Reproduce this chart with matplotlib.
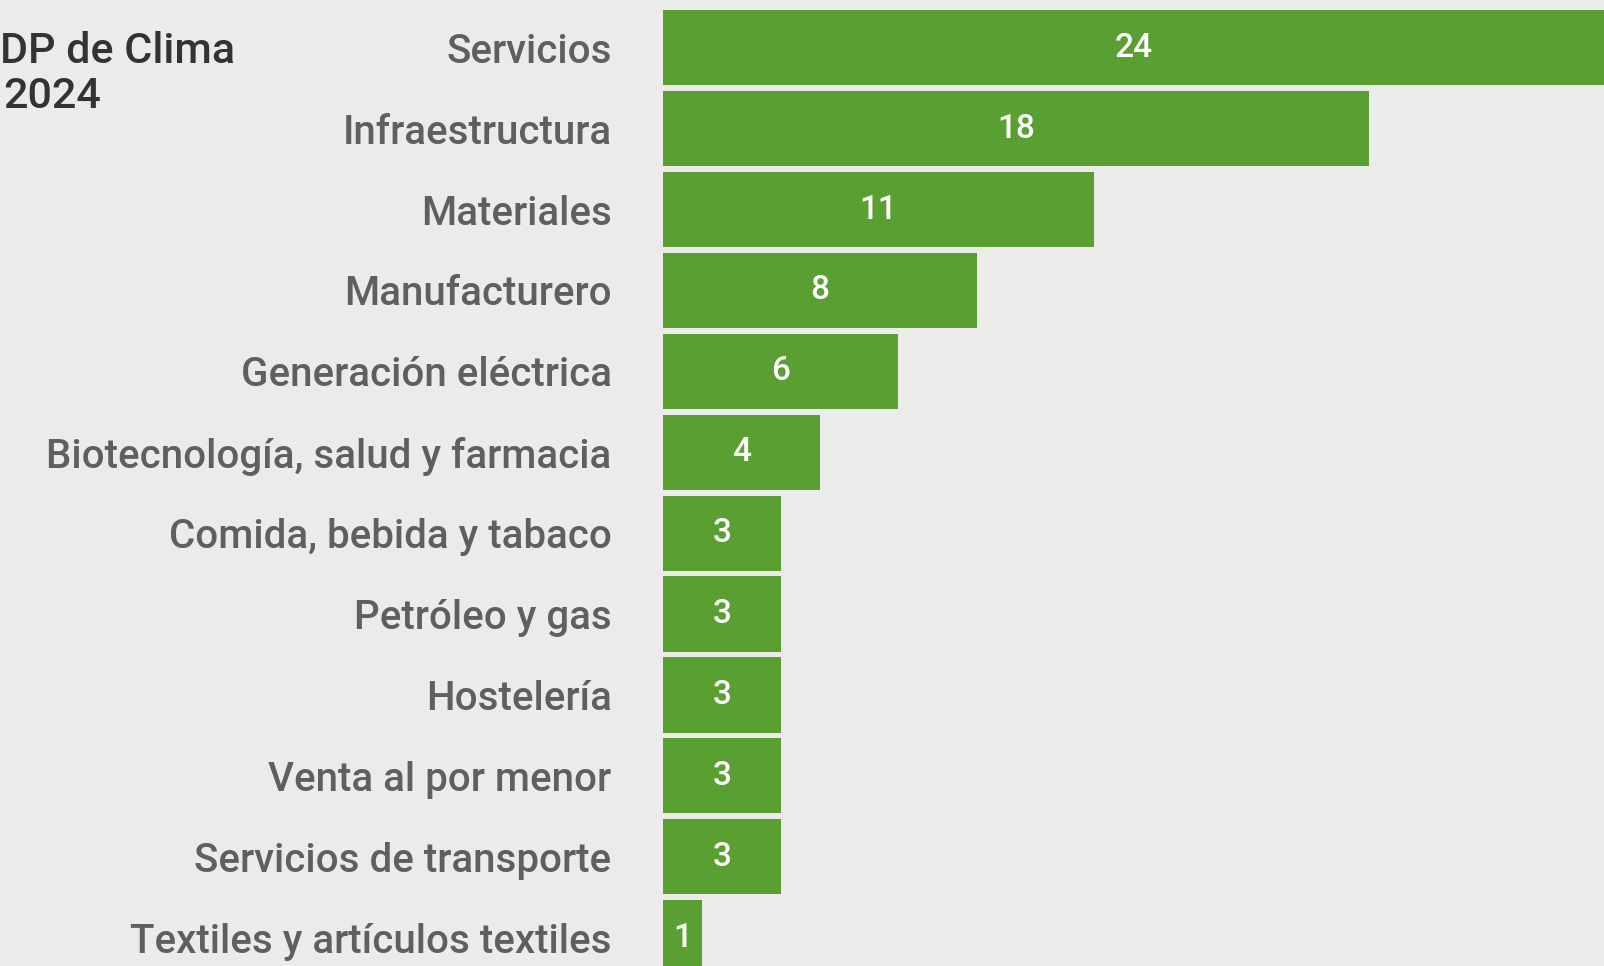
import matplotlib.pyplot as plt

# Data
sectors = [
    "Servicios",
    "Infraestructura",
    "Materiales",
    "Manufacturero",
    "Generación eléctrica",
    "Biotecnología, salud y farmacia",
    "Comida, bebida y tabaco",
    "Petróleo y gas",
    "Hostelería",
    "Venta al por menor",
    "Servicios de transporte",
    "Textiles y artículos textiles",
]
counts = [24, 18, 11, 8, 6, 4, 3, 3, 3, 3, 3, 1]

title_lines = ["DP de Clima", "2024"]

BG = "#ebebea"
GREEN = "#5a9f32"
LABEL_GREY = "#5f5f5f"
TITLE_GREY = "#333333"

plt.rcParams["font.family"] = ["Roboto", "DejaVu Sans"]


def plot_chart():
    """Draw the horizontal bar chart and save it."""
    fig = plt.figure(figsize=(16.04, 9.66), dpi=100, facecolor=BG)
    ax = fig.add_axes([663 / 1604, 0, 1 - 663 / 1604, 1])
    ax.set_facecolor(BG)

    y = list(range(len(sectors)))
    ax.barh(y, counts, height=0.93, color=GREEN)

    for yi, c in zip(y, counts):
        ax.text(c / 2, yi, str(c), ha="center", va="center",
                color="white", fontsize=24, fontweight=500)

    ax.set_xlim(0, 24)
    ax.set_ylim(11.35, -0.59)
    ax.set_yticks(y)
    ax.set_yticklabels(sectors, fontsize=29, fontweight=500,
                       color=LABEL_GREY)
    ax.tick_params(axis="y", length=0, pad=37)
    ax.set_xticks([])
    for s in ax.spines.values():
        s.set_visible(False)

    fig.text(0.0, 1 - 63 / 966, title_lines[0], ha="left", va="baseline",
             fontsize=31, fontweight=500, color=TITLE_GREY)
    fig.text(0.002, 1 - 108 / 966, title_lines[1], ha="left", va="baseline",
             fontsize=31, fontweight=500, color=TITLE_GREY)

    fig.savefig("out.png", dpi=100, facecolor=BG)
    plt.close(fig)


if __name__ == "__main__":
    plot_chart()
